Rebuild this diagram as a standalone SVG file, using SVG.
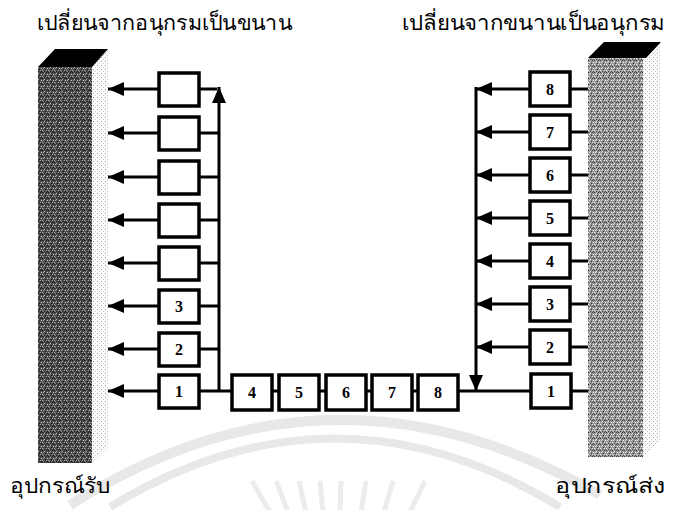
<svg xmlns="http://www.w3.org/2000/svg" width="673" height="510" viewBox="0 0 673 510">
<defs>
<pattern id="noiseDark" width="6" height="6" patternUnits="userSpaceOnUse">
<rect width="6" height="6" fill="#4e4e4e"/>
<rect x="0" y="0" width="1" height="1" fill="#111"/><rect x="2" y="1" width="1" height="1" fill="#bbb"/><rect x="4" y="0" width="1" height="1" fill="#222"/>
<rect x="1" y="2" width="1" height="1" fill="#999"/><rect x="3" y="3" width="1" height="1" fill="#111"/><rect x="5" y="2" width="1" height="1" fill="#ccc"/>
<rect x="0" y="4" width="1" height="1" fill="#aaa"/><rect x="2" y="5" width="1" height="1" fill="#222"/><rect x="4" y="4" width="1" height="1" fill="#999"/>
<rect x="5" y="5" width="1" height="1" fill="#111"/><rect x="1" y="5" width="1" height="1" fill="#888"/><rect x="3" y="1" width="1" height="1" fill="#333"/>
</pattern>
<pattern id="noiseLight" width="6" height="6" patternUnits="userSpaceOnUse">
<rect width="6" height="6" fill="#959595"/>
<rect x="0" y="0" width="1" height="1" fill="#333"/><rect x="2" y="1" width="1" height="1" fill="#eee"/><rect x="4" y="0" width="1" height="1" fill="#444"/>
<rect x="1" y="2" width="1" height="1" fill="#ddd"/><rect x="3" y="3" width="1" height="1" fill="#333"/><rect x="5" y="2" width="1" height="1" fill="#fff"/>
<rect x="0" y="4" width="1" height="1" fill="#eee"/><rect x="2" y="5" width="1" height="1" fill="#444"/><rect x="4" y="4" width="1" height="1" fill="#ddd"/>
<rect x="5" y="5" width="1" height="1" fill="#555"/><rect x="1" y="5" width="1" height="1" fill="#ccc"/><rect x="3" y="1" width="1" height="1" fill="#666"/>
</pattern>
<pattern id="dots" width="4" height="4" patternUnits="userSpaceOnUse">
<rect width="4" height="4" fill="#fafafa"/>
<rect x="1" y="1" width="1" height="1" fill="#aaa"/><rect x="3" y="3" width="1" height="1" fill="#ccc"/>
</pattern>
<marker id="ah" markerWidth="16" markerHeight="14" refX="16" refY="7" orient="auto" markerUnits="userSpaceOnUse">
<path d="M0,0 L16,7 L0,14 Z" fill="#000"/>
</marker>
</defs>
<style>
.box{fill:#fff;stroke:#000;stroke-width:3.5}
.ln{stroke:#000;stroke-width:3;fill:none}
.arr{stroke:#000;stroke-width:3;fill:none;marker-end:url(#ah)}
.num{font-family:"Liberation Serif",serif;font-weight:bold;font-size:16px;text-anchor:middle}
.lbl{font-family:"Noto Sans","DejaVu Sans",sans-serif;font-size:21px;fill:#000}
.wm{fill:none;stroke:#e8e8e8}
.ray{stroke:#ececec;stroke-width:5}
</style>

<g id="watermark">
<path class="wm" stroke-width="10" d="M70,505 Q330,340 600,495"/>
<path class="wm" stroke-width="8" d="M110,507 Q335,370 560,507"/>
<line class="ray" x1="252" y1="481" x2="270" y2="512"/>
<line class="ray" x1="276" y1="481" x2="288" y2="512"/>
<line class="ray" x1="299" y1="481" x2="306" y2="512"/>
<line class="ray" x1="320" y1="481" x2="323" y2="512"/>
<line class="ray" x1="341" y1="481" x2="340" y2="512"/>
<line class="ray" x1="366" y1="481" x2="361" y2="512"/>
<line class="ray" x1="393" y1="481" x2="384" y2="512"/>
<line class="ray" x1="425" y1="481" x2="410" y2="512"/>
</g>

<g id="receiver">
<polygon points="92,67 108,49 108,447 92,463" fill="url(#dots)"/>
<rect x="38" y="67" width="54" height="396" fill="url(#noiseDark)"/>
<polygon points="38,67 55,49 108,49 92,67" fill="#000"/>
</g>
<g id="sender">
<polygon points="643,58 660,42 660,440 643,457" fill="url(#dots)"/>
<rect x="588" y="58" width="55" height="399" fill="url(#noiseLight)"/>
<polygon points="588,58 604,42 661,42 646,58" fill="#000"/>
</g>

<g id="connectors">
<line class="arr" x1="159" y1="89" x2="108" y2="89"/>
<line class="arr" x1="159" y1="133" x2="108" y2="133"/>
<line class="arr" x1="159" y1="177" x2="108" y2="177"/>
<line class="arr" x1="159" y1="220" x2="108" y2="220"/>
<line class="arr" x1="159" y1="263" x2="108" y2="263"/>
<line class="arr" x1="159" y1="306" x2="108" y2="306"/>
<line class="arr" x1="159" y1="349" x2="108" y2="349"/>
<line class="arr" x1="159" y1="391" x2="108" y2="391"/>
<line class="arr" x1="219" y1="391" x2="219" y2="87"/>
<polyline class="ln" points="199,89 217,89"/>
<line class="ln" x1="199" y1="133" x2="219" y2="133"/>
<line class="ln" x1="199" y1="177" x2="219" y2="177"/>
<line class="ln" x1="199" y1="220" x2="219" y2="220"/>
<line class="ln" x1="199" y1="263" x2="219" y2="263"/>
<line class="ln" x1="199" y1="306" x2="219" y2="306"/>
<line class="ln" x1="199" y1="349" x2="219" y2="349"/>
<line class="ln" x1="199" y1="391" x2="232" y2="391"/>
<line class="ln" x1="272" y1="391" x2="279" y2="391"/>
<line class="ln" x1="319" y1="391" x2="326" y2="391"/>
<line class="ln" x1="366" y1="391" x2="372" y2="391"/>
<line class="ln" x1="412" y1="391" x2="418" y2="391"/>
<line class="ln" x1="458" y1="391" x2="531" y2="391"/>
<line class="arr" x1="476" y1="87" x2="476" y2="391"/>
<line class="arr" x1="530" y1="89" x2="476" y2="89"/>
<line class="arr" x1="530" y1="132" x2="476" y2="132"/>
<line class="arr" x1="530" y1="175" x2="476" y2="175"/>
<line class="arr" x1="530" y1="218" x2="476" y2="218"/>
<line class="arr" x1="530" y1="261" x2="476" y2="261"/>
<line class="arr" x1="530" y1="304" x2="476" y2="304"/>
<line class="arr" x1="530" y1="347" x2="476" y2="347"/>
<line class="ln" x1="570" y1="89" x2="588" y2="89"/>
<line class="ln" x1="570" y1="132" x2="588" y2="132"/>
<line class="ln" x1="570" y1="175" x2="588" y2="175"/>
<line class="ln" x1="570" y1="218" x2="588" y2="218"/>
<line class="ln" x1="570" y1="261" x2="588" y2="261"/>
<line class="ln" x1="570" y1="304" x2="588" y2="304"/>
<line class="ln" x1="570" y1="347" x2="588" y2="347"/>
<line class="ln" x1="571" y1="391" x2="588" y2="391"/>
</g>

<g id="left-boxes">
<rect class="box" x="159" y="73" width="40" height="33"/>
<rect class="box" x="159" y="117" width="40" height="33"/>
<rect class="box" x="159" y="161" width="40" height="33"/>
<rect class="box" x="159" y="204" width="40" height="33"/>
<rect class="box" x="159" y="247" width="40" height="33"/>
<rect class="box" x="159" y="290" width="40" height="33"/>
<rect class="box" x="159" y="333" width="40" height="33"/>
<rect class="box" x="159" y="375" width="40" height="33"/>
<text class="num" x="179" y="312">3</text>
<text class="num" x="179" y="355">2</text>
<text class="num" x="179" y="397">1</text>
</g>

<g id="serial-boxes">
<rect class="box" x="232" y="375" width="40" height="35"/>
<rect class="box" x="279" y="375" width="40" height="35"/>
<rect class="box" x="326" y="375" width="40" height="35"/>
<rect class="box" x="372" y="375" width="40" height="35"/>
<rect class="box" x="418" y="375" width="40" height="35"/>
<text class="num" x="252" y="398">4</text>
<text class="num" x="299" y="398">5</text>
<text class="num" x="346" y="398">6</text>
<text class="num" x="392" y="398">7</text>
<text class="num" x="438" y="398">8</text>
</g>

<g id="right-boxes">
<rect class="box" x="530" y="72" width="40" height="34"/>
<rect class="box" x="530" y="115" width="40" height="34"/>
<rect class="box" x="530" y="158" width="40" height="34"/>
<rect class="box" x="530" y="201" width="40" height="34"/>
<rect class="box" x="530" y="244" width="40" height="34"/>
<rect class="box" x="530" y="287" width="40" height="34"/>
<rect class="box" x="530" y="330" width="40" height="34"/>
<rect class="box" x="531" y="374" width="40" height="34"/>
<text class="num" x="550" y="95">8</text>
<text class="num" x="550" y="138">7</text>
<text class="num" x="550" y="181">6</text>
<text class="num" x="550" y="224">5</text>
<text class="num" x="550" y="267">4</text>
<text class="num" x="550" y="310">3</text>
<text class="num" x="550" y="353">2</text>
<text class="num" x="551" y="397">1</text>
</g>

<g id="labels">
<text class="lbl" x="37" y="30" textLength="255" lengthAdjust="spacingAndGlyphs">เปลี่ยนจากอนุกรมเป็นขนาน</text>
<text class="lbl" x="402" y="30" textLength="263" lengthAdjust="spacingAndGlyphs">เปลี่ยนจากขนานเป็นอนุกรม</text>
<text class="lbl" x="10" y="493" textLength="100" lengthAdjust="spacingAndGlyphs">อุปกรณ์รับ</text>
<text class="lbl" x="555" y="493" textLength="110" lengthAdjust="spacingAndGlyphs">อุปกรณ์ส่ง</text>
</g>
</svg>
